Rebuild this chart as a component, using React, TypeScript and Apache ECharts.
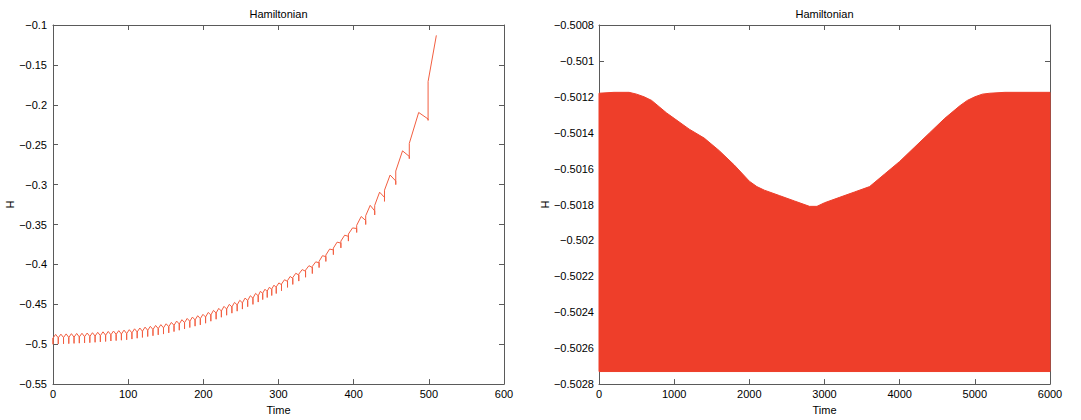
import React, { useEffect, useRef } from "react";
import * as echarts from "echarts";

// ---------- Left panel: H(t), one entry per oscillation cusp ----------
const cuspT = [
  0, 7, 14, 21, 28, 35, 42, 49, 56, 63, 70, 77, 84, 91, 98, 105, 112, 119, 126, 133,
  140, 147, 154, 161, 168, 175, 182, 189, 196, 203, 210, 217, 224, 231, 238, 245, 252, 259, 266, 273,
  279, 285, 291, 297, 304, 312, 319, 327, 336, 345, 354, 363, 373, 383, 393, 404, 416, 428, 441, 456,
  474, 499,
];
// value just before each cusp
const beforeH = [
  -0.4923, -0.4920, -0.4917, -0.4915, -0.4912, -0.4909, -0.4906, -0.4903, -0.4898, -0.4893,
  -0.4888, -0.4882, -0.4877, -0.4872, -0.4867, -0.4858, -0.4847, -0.4837, -0.4826, -0.4816,
  -0.4805, -0.4795, -0.4780, -0.4764, -0.4747, -0.4730, -0.4713, -0.4696, -0.4680, -0.4659,
  -0.4634, -0.4609, -0.4584, -0.4559, -0.4533, -0.4508, -0.4482, -0.4452, -0.4423, -0.4394,
  -0.4366, -0.4340, -0.4315, -0.4290, -0.4255, -0.4213, -0.4176, -0.4134, -0.4086, -0.4040,
  -0.3980, -0.3903, -0.3818, -0.3733, -0.3648, -0.3550, -0.3450, -0.3330, -0.3160, -0.2955,
  -0.2647, -0.2178,
];
// bottom of the short downward spike at each cusp
const dipH = [
  -0.5001, -0.4998, -0.4995, -0.4993, -0.4990, -0.4987, -0.4984, -0.4981, -0.4976, -0.4971,
  -0.4966, -0.4960, -0.4955, -0.4950, -0.4945, -0.4936, -0.4925, -0.4915, -0.4904, -0.4894,
  -0.4883, -0.4873, -0.4858, -0.4842, -0.4825, -0.4808, -0.4791, -0.4774, -0.4758, -0.4737,
  -0.4712, -0.4687, -0.4662, -0.4637, -0.4611, -0.4586, -0.4560, -0.4530, -0.4501, -0.4472,
  -0.4441, -0.4415, -0.4390, -0.4365, -0.4330, -0.4288, -0.4251, -0.4209, -0.4161, -0.4115,
  -0.4040, -0.3963, -0.3878, -0.3793, -0.3708, -0.3600, -0.3500, -0.3380, -0.3210, -0.3000,
  -0.2675, -0.2195,
];
// value just after each cusp
const afterH = [
  -0.4923, -0.4920, -0.4917, -0.4915, -0.4912, -0.4909, -0.4906, -0.4903, -0.4898, -0.4893,
  -0.4888, -0.4882, -0.4877, -0.4872, -0.4867, -0.4858, -0.4847, -0.4837, -0.4826, -0.4816,
  -0.4805, -0.4795, -0.4780, -0.4764, -0.4747, -0.4730, -0.4713, -0.4696, -0.4680, -0.4659,
  -0.4634, -0.4609, -0.4584, -0.4559, -0.4533, -0.4508, -0.4482, -0.4452, -0.4423, -0.4394,
  -0.4360, -0.4334, -0.4308, -0.4282, -0.4246, -0.4203, -0.4165, -0.4122, -0.4072, -0.4025,
  -0.3962, -0.3883, -0.3796, -0.3708, -0.3620, -0.3510, -0.3390, -0.3260, -0.3070, -0.2830,
  -0.2484, -0.1709,
];
// hump top between consecutive cusps
const peakH = [
  -0.4877, -0.4874, -0.4871, -0.4868, -0.4865, -0.4863, -0.4860,
  -0.4856, -0.4851, -0.4845, -0.4840, -0.4835, -0.4830, -0.4824,
  -0.4818, -0.4807, -0.4797, -0.4786, -0.4776, -0.4765, -0.4755,
  -0.4744, -0.4727, -0.4710, -0.4693, -0.4677, -0.4660, -0.4643, -0.4626,
  -0.4602, -0.4576, -0.4551, -0.4526, -0.4501, -0.4476, -0.4450,
  -0.4422, -0.4393, -0.4363, -0.4336,
  -0.4311, -0.4285, -0.4260, -0.4232, -0.4192, -0.4151, -0.4111, -0.4065, -0.4016, -0.3968,
  -0.3891, -0.3808, -0.3721, -0.3634, -0.3543, -0.3400, -0.3260, -0.3095, -0.2880, -0.2577,
  -0.2096,
];
const endT = 510;
const endH = -0.113;

// ---------- Right panel: filled band ----------
const bandBottom = -0.50273;
const envT = [
  0, 200, 400, 500, 600, 700, 800, 900, 1000, 1200, 1400, 1600, 1800, 2000, 2100, 2200, 2400, 2600,
  2800, 2900, 3000, 3200, 3400, 3600, 3800, 4000, 4200, 4400, 4600, 4800, 4900, 5000, 5100, 5200,
  5400, 6000,
];
const envH = [
  -0.50118, -0.501175, -0.501175, -0.501185, -0.5012, -0.50122, -0.501255, -0.50129, -0.50132,
  -0.50138, -0.50143, -0.5015, -0.50158, -0.50167, -0.5017, -0.50172, -0.50175, -0.50178,
  -0.50181, -0.50181, -0.50179, -0.50176, -0.50173, -0.5017, -0.50163, -0.50156, -0.50148,
  -0.5014, -0.50132, -0.50125, -0.50122, -0.5012, -0.501185, -0.50118, -0.501175, -0.501175,
];

const TITLE = "Hamiltonian";
const X_NAME = "Time";
const Y_NAME = "H";

const FONT = "'Liberation Sans', Arial, Helvetica, sans-serif";
const AXIS_COLOR = "#5a5a5a";
const LINE_COLOR = "#F25E40";
const FILL_COLOR = "#EE3E2A";

const fmt = (v: number) => String(parseFloat(v.toFixed(6))).replace("-", "\u2212");

function buildLeft(): number[][] {
  const pts: number[][] = [];
  for (let i = 0; i < cuspT.length; i++) {
    pts.push([cuspT[i], beforeH[i]]);
    pts.push([cuspT[i], dipH[i]]);
    pts.push([cuspT[i], afterH[i]]);
    if (i < cuspT.length - 1) pts.push([(cuspT[i] + cuspT[i + 1]) / 2, peakH[i]]);
  }
  pts.push([endT, endH]);
  return pts;
}

export default function App() {
  const ref = useRef<HTMLDivElement>(null);
  useEffect(() => {
    if (!ref.current) return;
    const chart = echarts.init(ref.current, undefined, { renderer: "svg" });
    const lineStyle = { color: AXIS_COLOR, width: 1 };
    const tick = { inside: true, length: 5, lineStyle };
    const label = { fontSize: 11, color: "#000", fontFamily: FONT, formatter: fmt };
    const nameStyle = { fontSize: 11, color: "#000", fontFamily: FONT };
    const mkX = (grid: number, max: number, interval: number) => [
      {
        gridIndex: grid, type: "value", min: 0, max, interval, position: "bottom",
        name: X_NAME, nameLocation: "middle", nameGap: 15, nameTextStyle: nameStyle,
        axisLine: { onZero: false, lineStyle }, axisTick: tick,
        axisLabel: { ...label, margin: 4 }, splitLine: { show: false },
      },
      {
        gridIndex: grid, type: "value", min: 0, max, interval, position: "top",
        axisLine: { onZero: false, lineStyle }, axisTick: tick,
        axisLabel: { show: false }, splitLine: { show: false },
      },
    ];
    const mkY = (grid: number, min: number, max: number, interval: number, gap: number, margin: number) => [
      {
        gridIndex: grid, type: "value", min, max, interval, position: "left",
        name: Y_NAME, nameLocation: "middle", nameGap: gap, nameTextStyle: nameStyle,
        axisLine: { onZero: false, lineStyle }, axisTick: tick,
        axisLabel: { ...label, margin }, splitLine: { show: false },
      },
      {
        gridIndex: grid, type: "value", min, max, interval, position: "right",
        axisLine: { onZero: false, lineStyle }, axisTick: tick,
        axisLabel: { show: false }, splitLine: { show: false },
      },
    ];
    const titleStyle = { fontSize: 11, fontWeight: "normal", color: "#000", fontFamily: FONT };
    chart.setOption({
      animation: false,
      textStyle: { fontFamily: FONT },
      title: [
        { text: TITLE, left: 278.5, top: 8, textAlign: "center", padding: 0, textStyle: titleStyle },
        { text: TITLE, left: 824.5, top: 8, textAlign: "center", padding: 0, textStyle: titleStyle },
      ],
      grid: [
        { left: 53, top: 25, width: 451, height: 368 },
        { left: 599, top: 25, width: 451, height: 368 },
      ],
      xAxis: [...mkX(0, 600, 100), ...mkX(1, 6000, 1000)],
      yAxis: [...mkY(0, -0.55, -0.1, 0.05, 34, 6), ...mkY(1, -0.5028, -0.5008, 0.0002, 41, 5)],
      series: [
        {
          type: "line", xAxisIndex: 0, yAxisIndex: 0, data: buildLeft(),
          showSymbol: false, symbol: "none", lineStyle: { color: LINE_COLOR, width: 1 },
        },
        {
          type: "custom", coordinateSystem: "cartesian2d", xAxisIndex: 2, yAxisIndex: 2,
          data: envT.map((t, i) => [t, envH[i]]),
          renderItem: (params: any, api: any) => {
            if (params.dataIndex !== 0) return null;
            const pts = envT.map((t, i) => api.coord([t, envH[i]]));
            pts.push(api.coord([envT[envT.length - 1], bandBottom]));
            pts.push(api.coord([envT[0], bandBottom]));
            return {
              type: "polygon",
              shape: { points: pts },
              style: { fill: FILL_COLOR, stroke: FILL_COLOR, lineWidth: 1 },
            };
          },
        },
      ],
    });
    return () => chart.dispose();
  }, []);
  return (
    <div
      ref={ref}
      style={{ position: "absolute", left: 0, top: 0, width: 1081, height: 420, background: "#fff" }}
    />
  );
}
